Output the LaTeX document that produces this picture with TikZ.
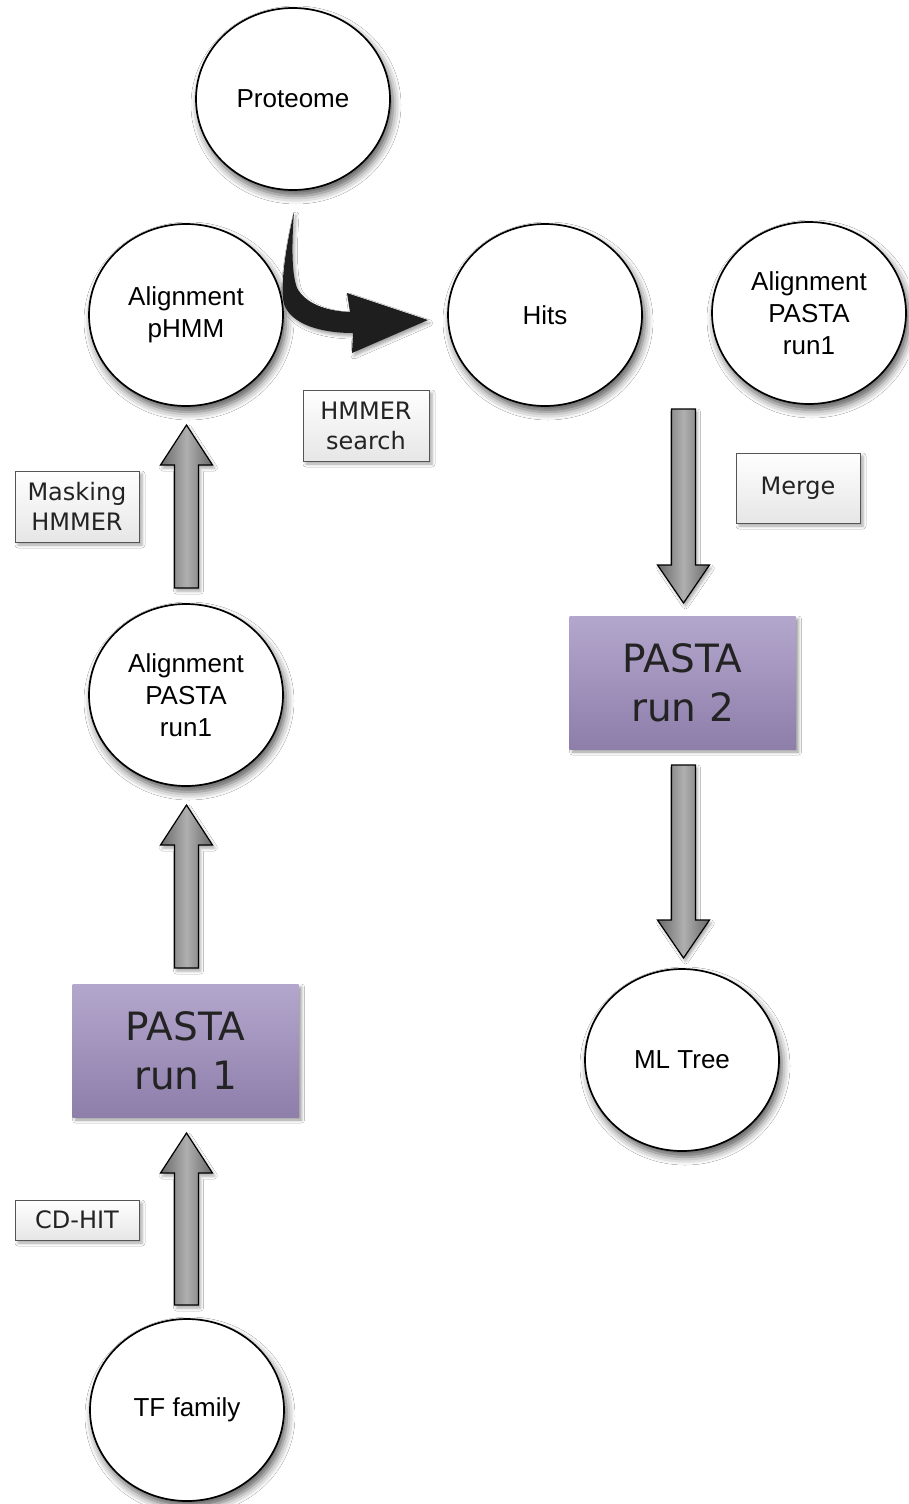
\documentclass[tikz,border=0pt]{standalone}
\usepackage{fontspec}
\setmainfont{Liberation Sans}
\newfontfamily\verd{DejaVu Sans}
\usetikzlibrary{shapes.geometric,shadows.blur,calc}
\definecolor{lavtop}{RGB}{180,167,205}
\definecolor{lavbot}{RGB}{141,126,170}
\definecolor{txtdark}{RGB}{35,35,35}
\definecolor{lblborder}{RGB}{85,85,85}
\definecolor{lblbot}{RGB}{230,230,230}
\definecolor{arrdark}{RGB}{105,105,105}
\definecolor{arrlight}{RGB}{175,175,175}
\definecolor{curvefill}{RGB}{30,30,30}
\newcommand{\uparr}[2]{%
  \path[barrow] let \p1=(#1), \p2=(#2) in
    (\x1-12pt,\y1) -- (\x1-12pt,\y2-40pt) -- (\x1-26pt,\y2-40pt) -- (\x1,\y2)
    -- (\x1+26pt,\y2-40pt) -- (\x1+12pt,\y2-40pt) -- (\x1+12pt,\y1) -- cycle;}
\newcommand{\downarr}[2]{%
  \path[barrow] let \p1=(#1), \p2=(#2) in
    (\x1-12pt,\y1) -- (\x1-12pt,\y2+38pt) -- (\x1-26pt,\y2+38pt) -- (\x1,\y2)
    -- (\x1+26pt,\y2+38pt) -- (\x1+12pt,\y2+38pt) -- (\x1+12pt,\y1) -- cycle;}
\begin{document}
\begin{tikzpicture}[x=1pt,y=-1pt,
  circ/.style={ellipse,draw=black,line width=1.7pt,fill=white,
    minimum width=194pt,minimum height=182pt,inner sep=0pt,align=center,
    font=\fontsize{26}{32}\selectfont,
    blur shadow={shadow xshift=3pt,shadow yshift=-6pt,shadow blur radius=8pt,shadow opacity=65}},
  lbl/.style={draw=lblborder,line width=0.9pt,top color=white,bottom color=lblbot,
    font=\verd\fontsize{24}{30}\selectfont,text=txtdark,align=center,inner sep=0pt,
    minimum width=124pt,
    blur shadow={shadow xshift=3pt,shadow yshift=-3pt,shadow blur radius=3pt,shadow opacity=35}},
  pasta/.style={top color=lavtop,bottom color=lavbot,minimum width=226pt,minimum height=133pt,
    inner sep=0pt,align=center,font=\verd\fontsize{39}{49}\selectfont,text=txtdark,
    blur shadow={shadow xshift=3pt,shadow yshift=-3pt,shadow blur radius=3pt,shadow opacity=40}},
  barrow/.style={draw=black,line width=1.2pt,left color=arrdark,right color=arrdark,middle color=arrlight,
    blur shadow={shadow xshift=2pt,shadow yshift=-3pt,shadow blur radius=3pt,shadow opacity=35}}
]
\path[use as bounding box,fill=white] (0,0) rectangle (908,1504);

% circles
\node[circ] (prot) at (293,99) {Proteome};
\node[circ] (aph) at (186,315) {Alignment\\pHMM};
\node[circ] (hits) at (545,315) {Hits};
\node[circ] (apr) at (809,313) {Alignment\\PASTA\\run1};
\node[circ] (apl) at (186,695) {Alignment\\PASTA\\run1};
\node[circ] (ml) at (682,1060) {ML Tree};
\node[circ] (tf) at (187,1410) {TF family};

% PASTA boxes
\node[pasta] (p1) at (185.5,1050.5) {PASTA\\run 1};
\node[pasta] (p2) at (682.5,682.5) {PASTA\\run 2};

% labels
\node[lbl,minimum width=126pt,minimum height=71pt] (hs) at (366,425.5) {HMMER\\search};
\node[lbl,minimum height=71pt] (mh) at (77,506.5) {Masking\\HMMER};
\node[lbl,minimum height=70pt] (mg) at (798,488) {Merge};
\node[lbl,minimum height=40pt] (cd) at (77,1220) {CD-HIT};

% block arrow end points
\coordinate (a1s) at (186.5,1305);
\coordinate (a1t) at (186.5,1133);
\coordinate (a2s) at (186.5,968);
\coordinate (a2t) at (186.5,805);
\coordinate (a3s) at (186.5,588);
\coordinate (a3t) at (186.5,425);
\coordinate (a4s) at (683.5,409);
\coordinate (a4t) at (683.5,603);
\coordinate (a5s) at (683.5,765);
\coordinate (a5t) at (683.5,958);

\uparr{a1s}{a1t}
\uparr{a2s}{a2t}
\uparr{a3s}{a3t}
\downarr{a4s}{a4t}
\downarr{a5s}{a5t}

% curved black arrow from Proteome to Hits
\coordinate (ctail) at (294,212);
\coordinate (ctip) at (428,320);
\path[fill=curvefill,blur shadow={shadow xshift=2pt,shadow yshift=-3pt,shadow blur radius=3pt,shadow opacity=35}]
  (ctail) .. controls (285,250) and (280,288) .. (284,304)
  .. controls (291,324) and (320,333) .. (353,333)
  -- (352,353) -- (ctip) -- (347,293) -- (350,312)
  .. controls (325,311) and (305,303) .. (297,288)
  .. controls (291,272) and (292,240) .. (ctail) -- cycle;
\end{tikzpicture}
\end{document}
